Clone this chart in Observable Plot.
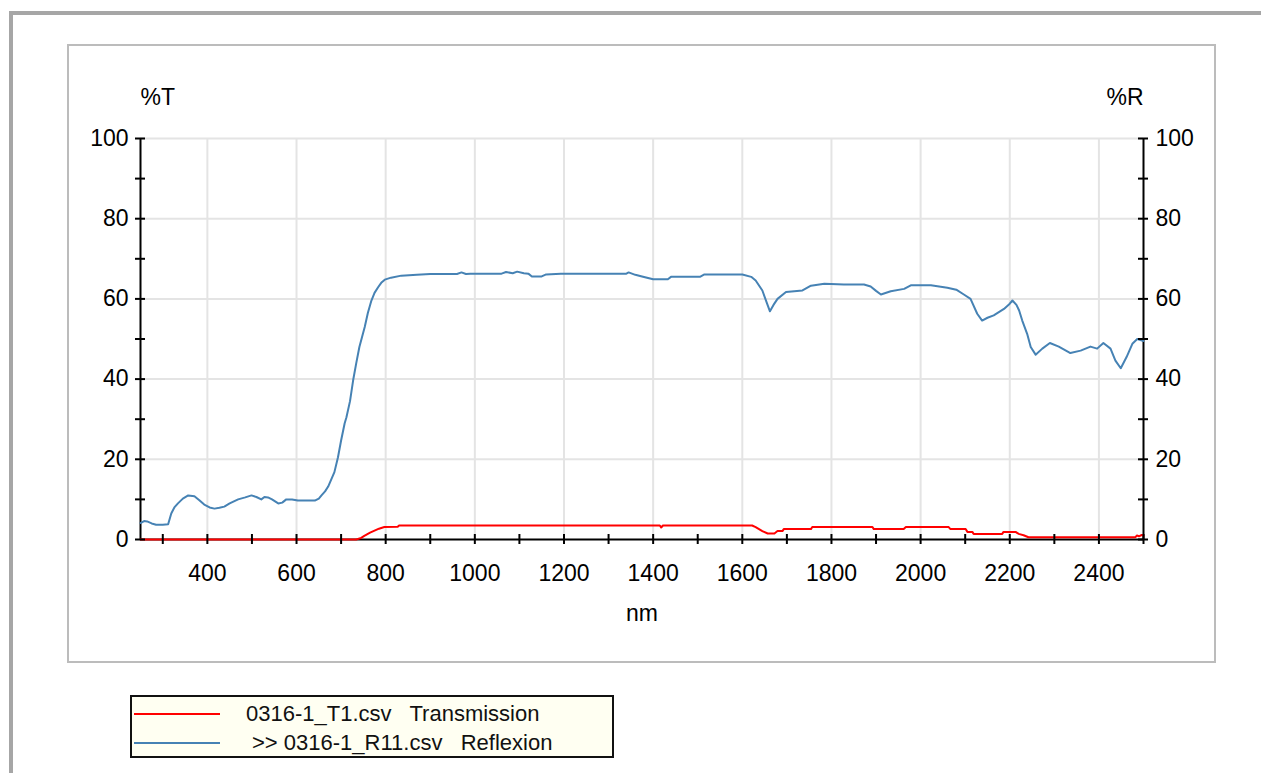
<!DOCTYPE html>
<html>
<head>
<meta charset="utf-8">
<script src="https://cdn.jsdelivr.net/npm/d3@7"></script>
<script src="https://cdn.jsdelivr.net/npm/@observablehq/plot@0.6"></script>
<style>
  html, body { margin: 0; padding: 0; background: #fff; overflow: hidden; }
  body { width: 1261px; height: 773px; position: relative; font-family: "Liberation Sans", Arial, sans-serif; }
  #outer { position: absolute; left: 9px; top: 11px; width: 1300px; height: 800px; border-top: 4px solid #a6a6a6; border-left: 4px solid #a6a6a6; box-sizing: border-box; }
  #inner { position: absolute; left: 67px; top: 44px; width: 1149px; height: 619px; border: 2px solid #bcbcbc; box-sizing: border-box; }
  #chart { position: absolute; left: 0; top: 0; }
  #legend { position: absolute; left: 130px; top: 695px; width: 484px; height: 63px; box-sizing: border-box; border: 2px solid #111; background: #fffff2; font-size: 22px; color: #111; }
  .row { position: absolute; left: 0; height: 28px; width: 100%; }
  .sw { position: absolute; left: 2px; width: 86px; height: 2px; }
  .lt { position: absolute; white-space: pre; line-height: 28px; top: 0; }
</style>
</head>
<body>
<div id="outer"></div>
<div id="inner"></div>
<div id="chart"></div>
<div id="legend"></div>
<script>
// ---- data ----
const xDomain = [250, 2500];
const yDomain = [0, 100];
const xTickLabels = [400, 600, 800, 1000, 1200, 1400, 1600, 1800, 2000, 2200, 2400];
const xMinorTicks = [300, 400, 500, 600, 700, 800, 900, 1000, 1100, 1200, 1300, 1400, 1500, 1600, 1700, 1800, 1900, 2000, 2100, 2200, 2300, 2400, 2500];
const yTickLabels = [0, 20, 40, 60, 80, 100];
const yMinorTicks = [0, 10, 20, 30, 40, 50, 60, 70, 80, 90, 100];
const gridYValues = [20, 40, 60, 80, 100];

const seriesNames = ["0316-1_T1.csv   Transmission", ">> 0316-1_R11.csv   Reflexion"];
const seriesColors = ["#ff0000", "#4682b4"];

// Transmission (%T) : [nm, value]
const transmission = [
  [250,0],[734,0],[745,0.4],[752,0.9],[765,1.7],[775,2.2],[785,2.7],[797,3.1],[827,3.2],[830,3.5],
  [1415,3.5],[1418,3.0],[1422,3.5],[1622,3.5],[1630,3.1],[1645,2.1],[1657,1.5],[1672,1.5],[1679,2.1],
  [1690,2.1],[1693,2.6],[1754,2.6],[1757,3.1],[1892,3.1],[1895,2.6],[1962,2.6],[1967,3.1],[2063,3.1],
  [2067,2.6],[2101,2.6],[2105,1.9],[2116,1.9],[2119,1.4],[2183,1.4],[2186,1.9],[2213,1.9],[2220,1.4],
  [2231,1.07],[2242,0.57],[2482,0.57],[2485,1.0],[2490,0.8],[2495,1.1],[2500,1.0]
];

// Reflexion (%R) : [nm, value]
const reflexion = [
  [250,4.1],[258,4.6],[265,4.5],[275,4.0],[285,3.7],[300,3.7],[312,3.8],[319,6.5],[326,8.0],[334,9.0],
  [345,10.2],[357,11.0],[371,10.8],[382,9.8],[393,8.7],[405,8.0],[416,7.7],[427,7.9],[438,8.2],[450,9.0],
  [469,10.0],[485,10.5],[499,11.0],[510,10.6],[521,10.0],[528,10.6],[536,10.5],[545,10.0],[559,9.0],[568,9.2],
  [577,10.0],[590,10.0],[603,9.7],[620,9.7],[641,9.7],[650,10.2],[656,11.0],[664,12.0],[671,13.2],[678,15.0],
  [685,16.8],[693,20.5],[700,24.7],[708,29.0],[712,30.5],[720,34.5],[727,39.7],[734,44.0],[741,48.0],[747,50.5],
  [753,53.0],[760,56.5],[768,59.6],[775,61.5],[783,62.9],[790,64.0],[798,64.8],[812,65.3],[835,65.8],[870,66.0],
  [900,66.2],[960,66.2],[970,66.6],[980,66.2],[990,66.3],[1060,66.3],[1070,66.7],[1085,66.4],[1095,66.8],[1110,66.4],
  [1120,66.3],[1128,65.6],[1150,65.6],[1160,66.1],[1193,66.3],[1340,66.3],[1345,66.6],[1360,66.0],[1375,65.6],[1400,64.9],
  [1433,64.9],[1440,65.5],[1505,65.5],[1515,66.1],[1600,66.1],[1620,65.5],[1630,64.6],[1645,62.1],[1655,59.0],[1662,56.9],
  [1670,58.5],[1679,60.0],[1698,61.7],[1735,62.1],[1754,63.3],[1784,63.8],[1828,63.6],[1873,63.6],[1888,63.1],[1900,62.0],
  [1911,61.1],[1933,61.9],[1963,62.5],[1978,63.4],[2023,63.4],[2060,62.8],[2080,62.3],[2097,61.1],[2112,60.0],[2127,56.3],
  [2138,54.6],[2150,55.3],[2164,55.9],[2187,57.5],[2200,58.8],[2206,59.6],[2215,58.5],[2221,57.1],[2228,54.6],[2239,51.3],
  [2247,48.0],[2258,46.1],[2273,47.6],[2290,49.0],[2310,48.1],[2336,46.5],[2359,47.1],[2381,48.1],[2396,47.6],[2410,49.0],
  [2426,47.6],[2437,44.6],[2449,42.7],[2462,45.5],[2475,48.8],[2486,50.0],[2500,49.5]
];

// ---- chart ----
const font = "'Liberation Sans', Arial, sans-serif";
const tickStyle = {stroke: "#000", strokeWidth: 2};

const chart = Plot.plot({
  width: 1261,
  height: 670,
  marginLeft: 140,
  marginRight: 118,
  marginTop: 138,
  marginBottom: 131,
  style: {fontFamily: font, background: "transparent", color: "#000"},
  x: {domain: xDomain, axis: null},
  y: {domain: yDomain, axis: null},
  marks: [
    Plot.gridX(xTickLabels, {stroke: "#e4e4e4", strokeOpacity: 1, strokeWidth: 2}),
    Plot.gridY(gridYValues, {stroke: "#e4e4e4", strokeOpacity: 1, strokeWidth: 2}),
    Plot.ruleX([xDomain[0], xDomain[1]], {stroke: "#000", strokeWidth: 2}),
    Plot.ruleY([yDomain[0]], {stroke: "#000", strokeWidth: 2}),
    Plot.line(reflexion, {x: d => d[0], y: d => d[1], stroke: seriesColors[1], strokeWidth: 2}),
    Plot.line(transmission, {x: d => d[0], y: d => d[1], stroke: seriesColors[0], strokeWidth: 2}),
    // crossing ticks
    Plot.ruleX(xMinorTicks, {x: d => d, y1: yDomain[0], y2: yDomain[0], insetTop: -5, insetBottom: -5, ...tickStyle}),
    Plot.ruleY(yMinorTicks, {y: d => d, x1: xDomain[0], x2: xDomain[0], insetLeft: -5, insetRight: -5, ...tickStyle}),
    Plot.ruleY(yMinorTicks, {y: d => d, x1: xDomain[1], x2: xDomain[1], insetLeft: -5, insetRight: -5, ...tickStyle}),
    // tick labels
    Plot.text(xTickLabels, {x: d => d, y: yDomain[0], dy: 34, text: d => String(d), fontSize: 23, fill: "#000"}),
    Plot.text(yTickLabels, {x: xDomain[0], y: d => d, dx: -12, text: d => String(d), textAnchor: "end", fontSize: 23, fill: "#000"}),
    Plot.text(yTickLabels, {x: xDomain[1], y: d => d, dx: 12, text: d => String(d), textAnchor: "start", fontSize: 23, fill: "#000"}),
    // axis titles
    Plot.text(["%T"], {frameAnchor: "top-left", lineAnchor: "middle", dy: -41, text: d => d, fontSize: 23, fill: "#000"}),
    Plot.text(["%R"], {frameAnchor: "top-right", lineAnchor: "middle", dy: -41, text: d => d, fontSize: 23, fill: "#000"}),
    Plot.text(["nm"], {frameAnchor: "bottom", lineAnchor: "middle", dy: 74, text: d => d, fontSize: 23, fill: "#000"})
  ]
});
document.getElementById("chart").appendChild(chart);

// ---- legend ----
const legend = document.getElementById("legend");
const rowTops = [3, 32];
const textLefts = [114, 120];
seriesNames.forEach((name, i) => {
  const row = document.createElement("div");
  row.className = "row";
  row.style.top = rowTops[i] + "px";
  const sw = document.createElement("div");
  sw.className = "sw";
  sw.style.top = "13px";
  sw.style.background = seriesColors[i];
  const t = document.createElement("span");
  t.className = "lt";
  t.style.left = textLefts[i] + "px";
  t.textContent = name;
  row.appendChild(sw);
  row.appendChild(t);
  legend.appendChild(row);
});
</script>
</body>
</html>
